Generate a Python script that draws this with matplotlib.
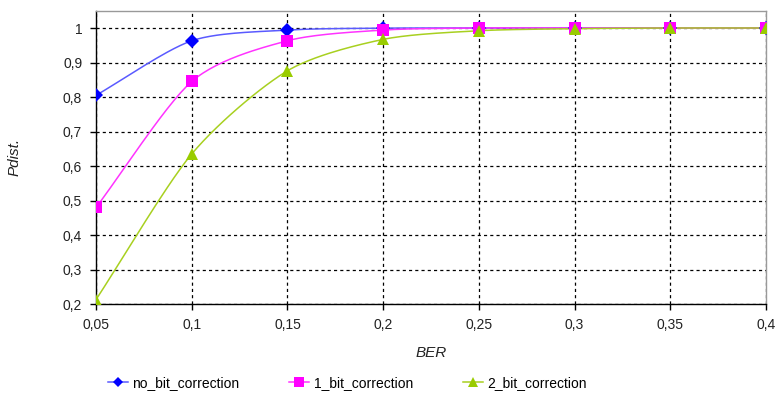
import numpy as np
import matplotlib
matplotlib.use("Agg")
import matplotlib.pyplot as plt
from matplotlib.ticker import FuncFormatter

ber = [0.05, 0.10, 0.15, 0.20, 0.25, 0.30, 0.35, 0.40]
no_bit = [0.805, 0.963, 0.994, 0.9995, 1.0, 1.0, 1.0, 1.0]
one_bit = [0.480, 0.845, 0.963, 0.994, 1.0, 1.0, 1.0, 1.0]
two_bit = [0.213, 0.635, 0.876, 0.967, 0.992, 0.998, 1.0, 1.0]
labels = ["no_bit_correction", "1_bit_correction", "2_bit_correction"]

plt.rcParams['font.family'] = ['Liberation Sans', 'DejaVu Sans']

def smooth(x, y, n=30):
    # Catmull-Rom style spline through data points (like spreadsheet smoothing)
    x = np.asarray(x, float); y = np.asarray(y, float)
    px = np.concatenate([[2*x[0]-x[1]], x, [2*x[-1]-x[-2]]])
    py = np.concatenate([[2*y[0]-y[1]], y, [2*y[-1]-y[-2]]])
    xs, ys = [], []
    t = np.linspace(0, 1, n)
    for i in range(1, len(px)-2):
        for arr, out in ((px, xs), (py, ys)):
            p0, p1, p2, p3 = arr[i-1], arr[i], arr[i+1], arr[i+2]
            m1 = (p2 - p0) / 2 * 0.8
            m2 = (p3 - p1) / 2 * 0.8
            h00 = 2*t**3 - 3*t**2 + 1
            h10 = t**3 - 2*t**2 + t
            h01 = -2*t**3 + 3*t**2
            h11 = t**3 - t**2
            out.extend(h00*p1 + h10*m1 + h01*p2 + h11*m2)
    return np.array(xs), np.array(ys)

fig = plt.figure(figsize=(7.77, 3.98), dpi=100)
ax = fig.add_axes([0.1236, 0.236, 0.8622, 0.737])

series = [
    (no_bit, '#0000ff', '#5a5aff', 'D', 7),
    (one_bit, '#ff00ff', '#ff33ff', 's', 8.5),
    (two_bit, '#99cc00', '#a8d020', '^', 9),
]
handles = []
for (vals, mc, lc, mk, ms), lab in zip(series, labels):
    sx, sy = smooth(ber, vals)
    ax.plot(sx, sy, color=lc, lw=1.1, zorder=3)
    ax.plot(ber, vals, linestyle='none', marker=mk, color=mc, markersize=ms,
            markeredgewidth=0, zorder=4)
    h, = ax.plot([], [], color=lc, lw=1.1, marker=mk, markerfacecolor=mc,
                 markeredgewidth=0, markersize=ms - 1.5, label=lab)
    handles.append(h)

ax.set_xlim(0.05, 0.4)
ax.set_ylim(0.2, 1.05)
ax.set_xticks(ber)
ax.set_yticks([0.2, 0.3, 0.4, 0.5, 0.6, 0.7, 0.8, 0.9, 1.0])

def fmt(v, pos):
    s = ('%.2f' % v).rstrip('0').rstrip('.')
    return s.replace('.', ',')
ax.xaxis.set_major_formatter(FuncFormatter(fmt))
ax.yaxis.set_major_formatter(FuncFormatter(fmt))

ax.grid(True, color='black', linestyle=(0, (2.5, 2.5)), linewidth=0.9, zorder=1)
ax.set_axisbelow(True)
for s in ['top', 'right']:
    ax.spines[s].set_color('#999999')
    ax.spines[s].set_linewidth(1)
for s in ['left', 'bottom']:
    ax.spines[s].set_color('black')
    ax.spines[s].set_linewidth(1)
ax.tick_params(direction='out', length=4, width=1, colors='black',
               labelsize=10, labelcolor='#222222', pad=6)

ax.set_xlabel('BER', fontsize=11, style='italic', labelpad=10, color='#222222')
ax.set_ylabel('Pdist.', fontsize=11, style='italic', labelpad=30, color='#222222')

fig.legend(handles=handles, labels=labels, loc='center', ncol=3,
           bbox_to_anchor=(0.447, 0.037), frameon=False, fontsize=10,
           handlelength=1.45, handletextpad=0.3, columnspacing=3.6)

fig.savefig('out.png', dpi=100)
